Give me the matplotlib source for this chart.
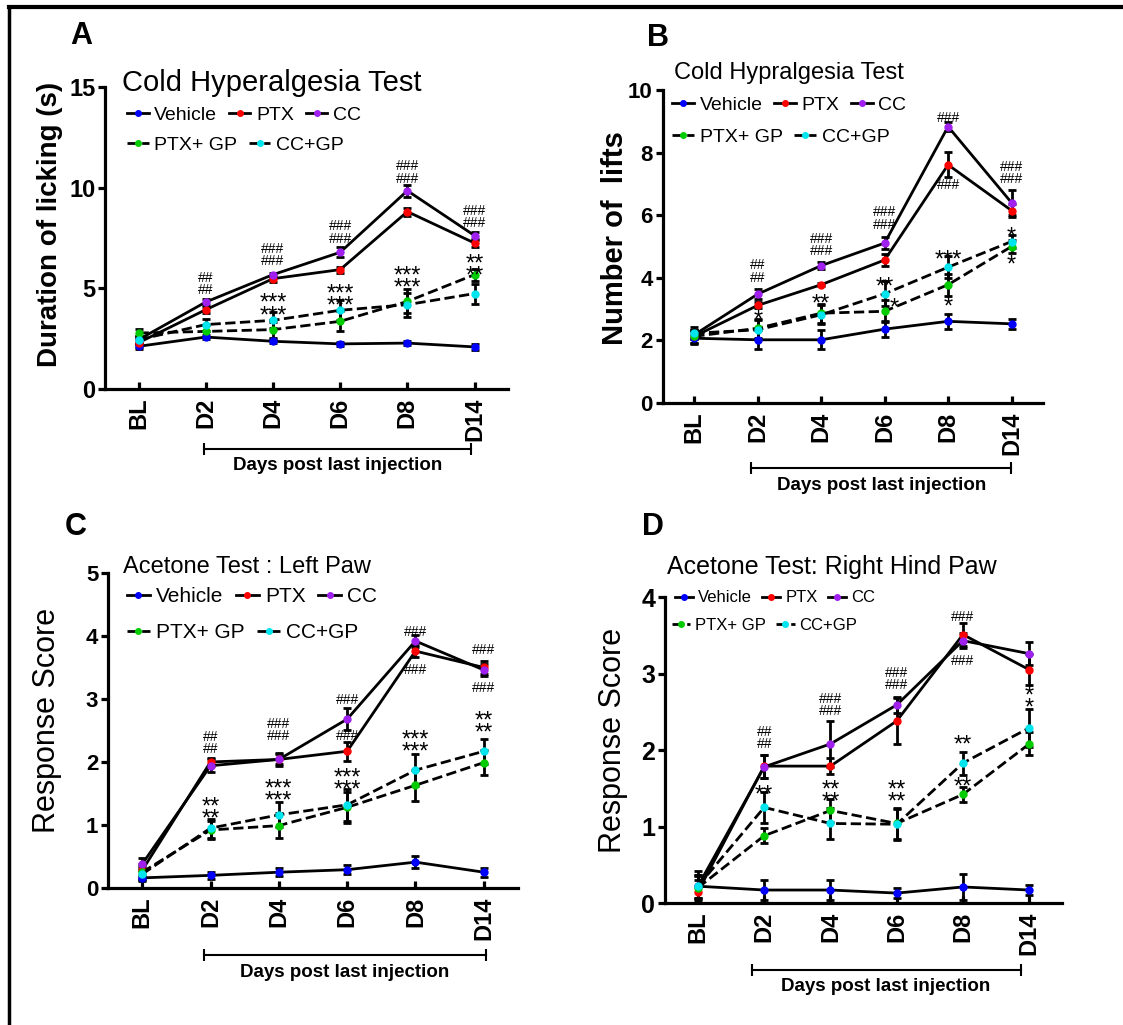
import numpy as np
import matplotlib.pyplot as plt
import matplotlib.transforms as mtransforms
from matplotlib.lines import Line2D

plt.rcParams['font.family'] = ['Liberation Sans', 'DejaVu Sans']

days = ['BL', 'D2', 'D4', 'D6', 'D8', 'D14']
groups = ['Vehicle', 'PTX', 'CC', 'PTX+ GP', 'CC+GP']
colors = ['#0000ff', '#ff0000', '#a020f0', '#00cc00', '#00e5ee']
styles = ['-', '-', '-', '--', '--']

# ---- panel A : cold hyperalgesia, duration of licking
a_vehicle = [2.12, 2.58, 2.37, 2.24, 2.28, 2.09]
a_ptx = [2.30, 3.94, 5.48, 5.93, 8.81, 7.25]
a_cc = [2.45, 4.32, 5.68, 6.79, 9.85, 7.62]
a_ptx_gp = [2.78, 2.86, 2.95, 3.36, 4.35, 5.68]
a_cc_gp = [2.45, 3.20, 3.41, 3.91, 4.19, 4.74]
a_vehicle_err = [0.15, 0.10, 0.10, 0.10, 0.10, 0.15]
a_ptx_err = [0.20, 0.15, 0.15, 0.15, 0.20, 0.20]
a_cc_err = [0.20, 0.15, 0.10, 0.25, 0.30, 0.20]
a_ptx_gp_err = [0.20, 0.30, 0.40, 0.50, 0.60, 0.30]
a_cc_gp_err = [0.20, 0.30, 0.40, 0.50, 0.60, 0.50]
a_marks = [(1, 5.2, '##\n##'), (2, 6.67, '###\n###'), (3, 7.77, '###\n###'),
           (4, 10.75, '###\n###'), (5, 8.55, '###\n###'),
           (2, 4.2, '***\n***'), (3, 4.66, '***\n***'), (4, 5.57, '***\n***'),
           (5, 6.16, '**\n**')]

# ---- panel B : cold hyperalgesia, number of lifts
b_vehicle = [2.07, 2.02, 2.02, 2.36, 2.61, 2.53]
b_ptx = [2.13, 3.12, 3.78, 4.57, 7.61, 6.15]
b_cc = [2.18, 3.48, 4.39, 5.11, 8.83, 6.40]
b_ptx_gp = [2.13, 2.39, 2.87, 2.93, 3.78, 5.00]
b_cc_gp = [2.23, 2.34, 2.82, 3.49, 4.34, 5.16]
b_vehicle_err = [0.20, 0.30, 0.30, 0.25, 0.25, 0.15]
b_ptx_err = [0.20, 0.10, 0.05, 0.20, 0.40, 0.20]
b_cc_err = [0.15, 0.15, 0.10, 0.20, 0.15, 0.40]
b_ptx_gp_err = [0.20, 0.30, 0.30, 0.35, 0.35, 0.20]
b_cc_gp_err = [0.20, 0.30, 0.30, 0.40, 0.35, 0.20]
b_marks = [(1, 4.2, '##\n##'), (2, 5.05, '###\n###'), (3, 5.9, '###\n###'),
           (4, 9.1, '###'), (4, 6.97, '###'), (5, 7.35, '###\n###'),
           (1, 2.82, '*'), (2, 3.33, '**'), (3, 3.88, '**'), (3.15, 3.2, '*'),
           (4, 4.73, '***'), (4, 3.24, '*'), (5, 5.48, '*'), (5, 4.57, '*')]

# ---- panel C : acetone test, left paw
c_vehicle = [0.16, 0.20, 0.25, 0.29, 0.41, 0.25]
c_ptx = [0.28, 2.00, 2.04, 2.17, 3.76, 3.50]
c_cc = [0.38, 1.94, 2.04, 2.68, 3.92, 3.46]
c_ptx_gp = [0.25, 0.92, 0.99, 1.28, 1.63, 1.99]
c_cc_gp = [0.22, 0.95, 1.16, 1.32, 1.87, 2.17]
c_vehicle_err = [0.05, 0.05, 0.06, 0.07, 0.10, 0.07]
c_ptx_err = [0.10, 0.07, 0.08, 0.15, 0.10, 0.10]
c_cc_err = [0.10, 0.10, 0.10, 0.17, 0.10, 0.10]
c_ptx_gp_err = [0.10, 0.15, 0.20, 0.25, 0.25, 0.20]
c_cc_gp_err = [0.10, 0.15, 0.20, 0.25, 0.25, 0.20]
c_marks = [(1, 2.3, '##\n##'), (2, 2.51, '###\n###'), (3, 2.99, '###'), (3, 2.42, '###'),
           (4, 4.07, '###'), (4, 3.46, '###'), (5, 3.78, '###'), (5, 3.17, '###'),
           (1, 1.275, '**\n**'), (2, 1.55, '***\n***'), (3, 1.725, '***\n***'),
           (4, 2.335, '***\n***'), (5, 2.635, '**\n**')]

# ---- panel D : acetone test, right hind paw
d_vehicle = [0.22, 0.17, 0.17, 0.13, 0.21, 0.17]
d_ptx = [0.15, 1.79, 1.79, 2.38, 3.51, 3.05]
d_cc = [0.22, 1.78, 2.08, 2.59, 3.43, 3.26]
d_ptx_gp = [0.20, 0.88, 1.21, 1.04, 1.42, 2.08]
d_cc_gp = [0.22, 1.25, 1.04, 1.03, 1.83, 2.29]
d_vehicle_err = [0.20, 0.13, 0.13, 0.07, 0.17, 0.07]
d_ptx_err = [0.15, 0.15, 0.10, 0.30, 0.15, 0.20]
d_cc_err = [0.15, 0.15, 0.30, 0.10, 0.10, 0.15]
d_ptx_gp_err = [0.15, 0.10, 0.15, 0.20, 0.10, 0.15]
d_cc_gp_err = [0.15, 0.20, 0.20, 0.20, 0.15, 0.25]
d_marks = [(1, 2.16, '##\n##'), (2, 2.585, '###\n###'), (3, 2.925, '###\n###'),
           (4, 3.74, '###'), (4, 3.17, '###'),
           (1, 1.48, '**'), (2, 1.465, '**\n**'), (3, 1.465, '**\n**'),
           (4, 2.13, '**'), (4, 1.58, '**'), (5, 2.695, '*\n*')]


def draw_panel(ax, means, errs, marks, ymax, ystep, title, title_xy, title_fs,
               ylabel, ylabel_xy, ylabel_fs, ylabel_weight, ytick_fs,
               leg1_xy, leg2_xy, leg_fs, bracket, bracket_y):
    x = np.arange(len(days))
    for i in range(5):
        ax.errorbar(x, means[i], yerr=errs[i], color='k', ls=styles[i], lw=2,
                    marker='o', ms=5, mfc=colors[i], mec=colors[i],
                    ecolor='k', elinewidth=2, capsize=3, capthick=2, zorder=3)
    for xi, yi, s in marks:
        if '#' in s:
            ax.text(xi, yi, s, ha='center', va='center', fontsize=10,
                    linespacing=0.85, zorder=4)
        else:
            # asterisks sit high in the line box, so push them down a bit
            ax.annotate(s, (xi, yi), xytext=(0, -4), textcoords='offset points',
                        ha='center', va='center', fontsize=17, linespacing=0.42,
                        zorder=4)

    ax.set_xlim(-0.5, 5.5)
    ax.set_ylim(0, ymax)
    ax.set_yticks(np.arange(0, ymax + 0.01, ystep))
    ax.set_xticks(x)
    ax.set_xticklabels(days, rotation=90, fontsize=17, fontweight='bold')
    for lab in ax.get_yticklabels():
        lab.set_fontsize(ytick_fs)
        lab.set_fontweight('bold')
    ax.spines['top'].set_visible(False)
    ax.spines['right'].set_visible(False)
    ax.spines['left'].set_linewidth(2.3)
    ax.spines['bottom'].set_linewidth(2.3)
    ax.tick_params(axis='y', direction='out', length=5, width=2.3, pad=2)
    ax.tick_params(axis='x', direction='in', length=5, width=2.3, pad=6)

    ax.text(title_xy[0], title_xy[1], title, transform=ax.transAxes,
            ha='left', va='center', fontsize=title_fs)
    ax.set_ylabel(ylabel, fontsize=ylabel_fs, fontweight=ylabel_weight)
    ax.yaxis.set_label_coords(*ylabel_xy)

    h = [Line2D([], [], color='k', ls=styles[i], lw=2, marker='o', ms=4,
                mfc=colors[i], mec=colors[i]) for i in range(5)]
    l1 = ax.legend(h[:3], groups[:3], loc='center left', bbox_to_anchor=leg1_xy,
                   ncol=3, frameon=False, fontsize=leg_fs, handlelength=1.1,
                   handletextpad=0.3, columnspacing=0.6, borderaxespad=0, borderpad=0)
    ax.add_artist(l1)
    ax.legend(h[3:], groups[3:], loc='center left', bbox_to_anchor=leg2_xy,
              ncol=2, frameon=False, fontsize=leg_fs, handlelength=1.1,
              handletextpad=0.3, columnspacing=0.6, borderaxespad=0, borderpad=0)

    trans = mtransforms.blended_transform_factory(ax.transData, ax.transAxes)
    ax.plot(bracket, [bracket_y, bracket_y], color='k', lw=1.5, marker='|',
            ms=8, mew=1.5, transform=trans, clip_on=False)
    ax.text(np.mean(bracket), bracket_y - 0.055, 'Days post last injection',
            transform=trans, ha='center', va='center', fontsize=13.5,
            fontweight='bold')


fig = plt.figure(figsize=(11.23, 10.25), dpi=100)
axA = fig.add_axes([0.0935, 0.6205, 0.359, 0.2946])
axB = fig.add_axes([0.590, 0.6068, 0.339, 0.3054])
axC = fig.add_axes([0.0962, 0.1337, 0.365, 0.3073])
axD = fig.add_axes([0.592, 0.119, 0.354, 0.2985])

draw_panel(axA, [a_vehicle, a_ptx, a_cc, a_ptx_gp, a_cc_gp],
           [a_vehicle_err, a_ptx_err, a_cc_err, a_ptx_gp_err, a_cc_gp_err], a_marks,
           15, 5, 'Cold Hyperalgesia Test', (0.042, 1.013), 21,
           'Duration of licking (s)', (-0.104, 0.546), 20, 'bold', 17,
           (0.055, 0.907), (0.055, 0.808), 14, [0.97, 4.94], -0.20)
draw_panel(axB, [b_vehicle, b_ptx, b_cc, b_ptx_gp, b_cc_gp],
           [b_vehicle_err, b_ptx_err, b_cc_err, b_ptx_gp_err, b_cc_gp_err], b_marks,
           10, 2, 'Cold Hypralgesia Test', (0.031, 1.054), 17,
           'Number of  lifts', (-0.087, 0.527), 21, 'bold', 16,
           (0.026, 0.952), (0.026, 0.85), 14, [0.9, 4.99], -0.208)
draw_panel(axC, [c_vehicle, c_ptx, c_cc, c_ptx_gp, c_cc_gp],
           [c_vehicle_err, c_ptx_err, c_cc_err, c_ptx_gp_err, c_cc_gp_err], c_marks,
           5, 1, 'Acetone Test : Left Paw', (0.037, 1.019), 17,
           'Response Score', (-0.112, 0.533), 22, 'normal', 16,
           (0.046, 0.924), (0.046, 0.81), 15, [0.91, 5.03], -0.213)
draw_panel(axD, [d_vehicle, d_ptx, d_cc, d_ptx_gp, d_cc_gp],
           [d_vehicle_err, d_ptx_err, d_cc_err, d_ptx_gp_err, d_cc_gp_err], d_marks,
           4, 1, 'Acetone Test: Right Hind Paw', (0.005, 1.098), 18,
           'Response Score', (-0.093, 0.533), 22, 'normal', 18,
           (0.025, 0.997), (0.018, 0.908), 12, [0.81, 4.87], -0.219)

for lab, xy in zip('ABCD', [(0.0721, 0.9649), (0.586, 0.963), (0.0677, 0.4859), (0.5815, 0.4859)]):
    fig.text(xy[0], xy[1], lab, ha='center', va='center', fontsize=22, fontweight='bold')

# outer frame (left and top edges only)
fig.add_artist(Line2D([0.008, 0.008], [0, 0.9932], transform=fig.transFigure, color='k', lw=2.5))
fig.add_artist(Line2D([0.008, 1], [0.9932, 0.9932], transform=fig.transFigure, color='k', lw=3))

fig.savefig('out.png', dpi=100)
